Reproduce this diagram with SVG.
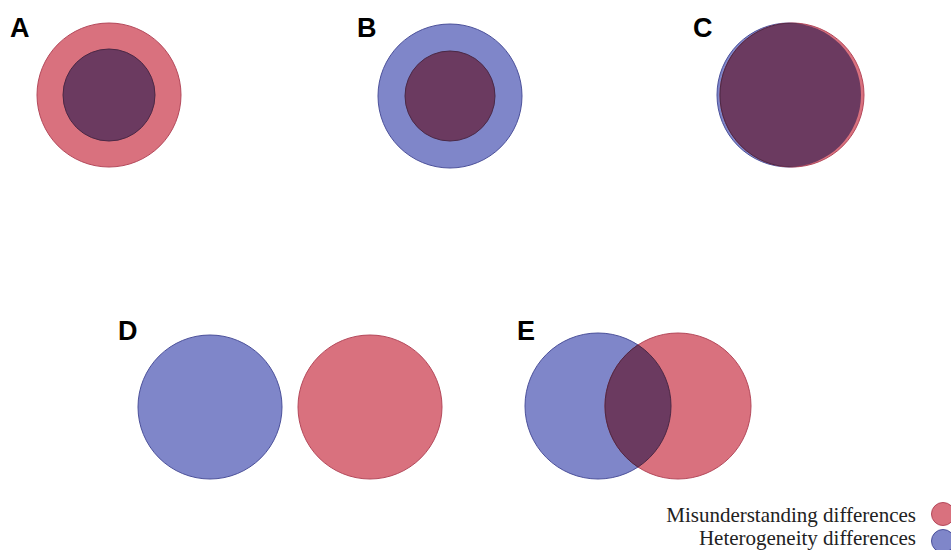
<svg xmlns="http://www.w3.org/2000/svg" width="951" height="550" viewBox="0 0 951 550">
<style>
.red{fill:#d9717e;stroke:#b4485a;stroke-width:1}
.blue{fill:#7f86c9;stroke:#4b509a;stroke-width:1}
.dark{fill:#6b3a60;stroke:#4a2845;stroke-width:1}
.lbl{font-family:"Liberation Sans",Arial,sans-serif;font-weight:bold;font-size:27px;fill:#000}
.leg{font-family:"Liberation Serif","Times New Roman",serif;font-size:21px;fill:#222}
</style>
<defs>
<clipPath id="clipCblue"><circle cx="789" cy="95" r="72"/></clipPath>
<clipPath id="clipEblue"><circle cx="598" cy="406" r="73"/></clipPath>
<clipPath id="clipEred"><circle cx="678" cy="406" r="73"/></clipPath>
</defs>
<rect width="951" height="550" fill="#fff"/>
<g id="A">
<text class="lbl" x="10" y="37">A</text>
<circle class="red" cx="109" cy="95" r="72"/>
<circle class="dark" cx="109" cy="95" r="46"/>
</g>
<g id="B">
<text class="lbl" x="357" y="37">B</text>
<circle class="blue" cx="450" cy="96" r="72"/>
<circle class="dark" cx="450" cy="96" r="45"/>
</g>
<g id="C">
<text class="lbl" x="693" y="37">C</text>
<circle class="blue" cx="789" cy="95" r="72"/>
<circle class="red" cx="792" cy="95" r="72"/>
<circle class="dark" cx="792" cy="95" r="72" clip-path="url(#clipCblue)"/>
</g>
<g id="D">
<text class="lbl" x="118" y="340">D</text>
<circle class="blue" cx="210" cy="407" r="72"/>
<circle class="red" cx="370" cy="407" r="72"/>
</g>
<g id="E">
<text class="lbl" x="517" y="340">E</text>
<circle class="blue" cx="598" cy="406" r="73"/>
<circle class="red" cx="678" cy="406" r="73"/>
<circle class="dark" cx="678" cy="406" r="73" clip-path="url(#clipEblue)"/>
<circle cx="598" cy="406" r="73" fill="none" stroke="#4a2845" stroke-width="1" clip-path="url(#clipEred)"/>
</g>
<g id="legend">
<text class="leg" x="916" y="522" text-anchor="end">Misunderstanding differences</text>
<circle class="red" cx="943" cy="514" r="11.5"/>
<text class="leg" x="916" y="545" text-anchor="end">Heterogeneity differences</text>
<circle class="blue" cx="943" cy="541" r="11.5"/>
</g>
</svg>
